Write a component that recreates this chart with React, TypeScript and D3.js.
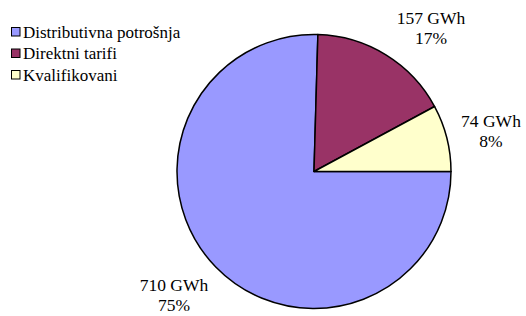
import React from "react";
import * as d3 from "d3";

const categories = ["Distributivna potrošnja", "Direktni tarifi", "Kvalifikovani"];
const values = [710, 157, 74];
const valueLabels = ["710 GWh", "157 GWh", "74 GWh"];
const percentLabels = ["75%", "17%", "8%"];
const colors = ["#9999FF", "#993366", "#FFFFCC"];

const W = 526;
const H = 316;
const cx = 314;
const cy = 171.5;
const R = 137;
const labelPos = [
  { x: 174, y: 284.5 },
  { x: 431, y: 17.5 },
  { x: 491, y: 121 },
];
const FONT = "'Liberation Serif', 'Times New Roman', Times, serif";

export default function App() {
  const pie = d3
    .pie<number>()
    .sort(null)
    .startAngle(Math.PI / 2)
    .endAngle(Math.PI / 2 + 2 * Math.PI)(values);
  const arc = d3.arc<d3.PieArcDatum<number>>().innerRadius(0).outerRadius(R);
  return (
    <svg
      width={W}
      height={H}
      style={{ position: "absolute", left: 0, top: 0, background: "#fff" }}
    >
      <g transform={`translate(${cx},${cy})`}>
        {pie.map((d, i) => (
          <path key={i} d={arc(d) || ""} fill={colors[i]} stroke="#000" strokeWidth={1.5} strokeLinejoin="round" />
        ))}
      </g>
      {pie.map((d, i) => (
        <text
          key={i}
          x={labelPos[i].x}
          y={labelPos[i].y}
          textAnchor="middle"
          fontSize={17.5}
          fill="#000"
          style={{ fontFamily: FONT }}
        >
          <tspan x={labelPos[i].x} dy="0.35em">{valueLabels[i]}</tspan>
          <tspan x={labelPos[i].x} dy="20">{percentLabels[i]}</tspan>
        </text>
      ))}
      {categories.map((c, i) => (
        <g key={c} transform={`translate(11,${32 + i * 21.5})`}>
          <rect x={0.5} y={-4.5} width={8.5} height={8.5} fill={colors[i]} stroke="#000" strokeWidth={1} />
          <text x={12} y={0} dy="0.35em" fontSize={17} fill="#000" style={{ fontFamily: FONT }}>
            {c}
          </text>
        </g>
      ))}
    </svg>
  );
}
